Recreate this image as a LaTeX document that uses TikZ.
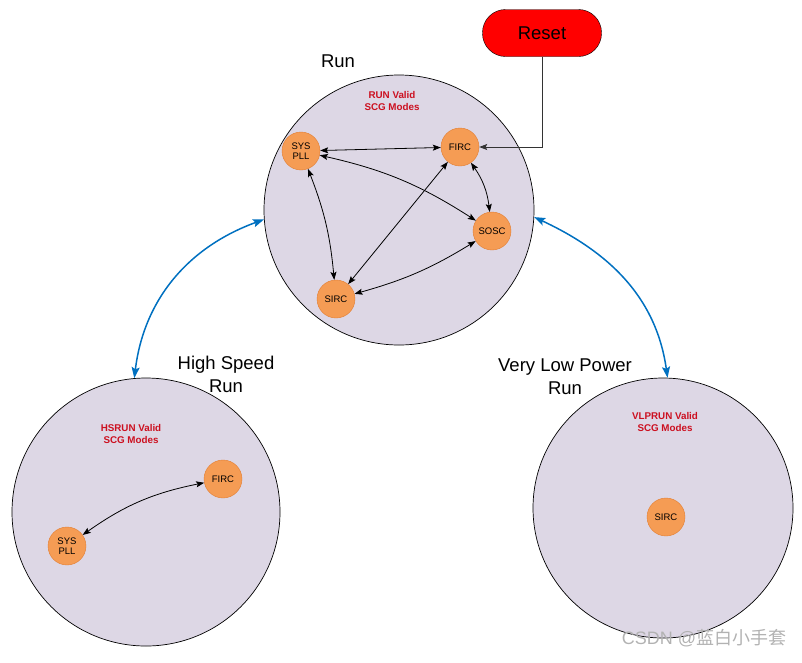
\documentclass[tikz,border=0pt]{standalone}
\usepackage{fontspec}
\setmainfont{Liberation Sans}
\newfontfamily\cjkfont{Noto Sans CJK SC}
\usetikzlibrary{arrows,arrows.meta,positioning,shapes}

\definecolor{modefill}{RGB}{221,215,229}
\definecolor{oscfill}{RGB}{245,156,84}
\definecolor{oscline}{RGB}{226,126,50}
\definecolor{validred}{RGB}{204,16,32}
\definecolor{linkblue}{RGB}{0,112,192}

\begin{document}
\begin{tikzpicture}[x=1pt,y=1pt,
  mode/.style={circle, draw=black, fill=modefill, line width=.7pt, inner sep=0pt},
  osc/.style={circle, draw=oscline, fill=oscfill, minimum size=38pt, inner sep=0pt,
    align=center, font=\fontsize{9.5}{10.5}\selectfont},
  valid/.style={text=validred, align=center, font=\fontsize{9.8}{12.5}\selectfont\bfseries},
  title/.style={align=center, font=\fontsize{18.5}{23}\selectfont},
  link/.style={line width=.8pt, <->, >={Stealth[length=8pt,width=6pt,inset=1.5pt]}}]

  \useasboundingbox (0,0) rectangle (802,-662);

  % power modes
  \node [mode, minimum size=270pt] (run)   at (399,-210) {};
  \node [mode, minimum size=268pt] (hsrun) at (146,-512) {};
  \node [mode, minimum size=260pt] (vlpr)  at (663,-508) {};

  \node [title] (runlabel)   at (338,-61)  {Run};
  \node [title] (hsrunlabel) at (226,-374) {High Speed\\Run};
  \node [title] (vlprlabel)  at (565,-377) {Very Low Power\\Run};

  \node [valid] (runvalid)   at (392,-101) {RUN Valid\\SCG Modes};
  \node [valid] (hsrunvalid) at (131,-434) {HSRUN Valid\\SCG Modes};
  \node [valid] (vlprvalid)  at (665,-422) {VLPRUN Valid\\SCG Modes};

  % Reset
  \node [draw=black, fill=red, rounded corners=23pt, minimum width=119pt,
         minimum height=47pt, font=\fontsize{18.5}{22}\selectfont] (reset) at (542,-33) {Reset};

  % clock sources
  \node [osc] (pll)  at (301,-151) {SYS\\PLL};
  \node [osc] (firc) at (460,-147) {FIRC};
  \node [osc] (sosc) at (492,-231) {SOSC};
  \node [osc] (sirc) at (336,-299) {SIRC};

  \node [osc] (hpll)  at (67,-546)  {SYS\\PLL};
  \node [osc] (hfirc) at (223,-479) {FIRC};

  \node [osc] (vsirc) at (666,-517) {SIRC};

  \draw [black!80, line width=.8pt, -{Stealth[length=8pt,width=6pt,inset=1.5pt]}] (reset.south) |- (firc.east);

  \draw [link] (pll) -- (firc);
  \draw [link] (pll) to[bend left=10] (sosc);
  \draw [link] (pll) to[bend left=8] (sirc);
  \draw [link] (firc) -- (sirc);
  \draw [link] (firc) to[bend left=14] (sosc);
  \draw [link] (sosc) to[bend left=8] (sirc);

  \draw [link] (hfirc) to[bend right=12] (hpll);

  % mode transitions
  \draw [linkblue, line width=1.5pt, <->, >={Stealth[length=11pt,width=8pt,inset=2pt]}]
        (hsrun.95) to[out=83, in=200] (run.184);
  \draw [linkblue, line width=1.5pt, <->, >={Stealth[length=11pt,width=8pt,inset=2pt]}]
        (run.-3) to[out=-25, in=98] (vlpr.88);

  \node [text=black!30, font=\fontsize{18}{21}\selectfont] (mark) at (704,-638)
        {CSDN @{\cjkfont 蓝白小手套}};

\end{tikzpicture}
\end{document}
